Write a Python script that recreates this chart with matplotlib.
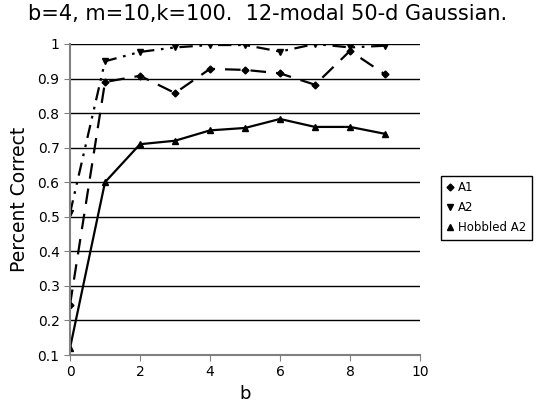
import numpy as np
import matplotlib.pyplot as plt

b = [0, 1, 2, 3, 4, 5, 6, 7, 8, 9]
a1 = [0.245, 0.89, 0.908, 0.858, 0.928, 0.925, 0.915, 0.882, 0.98, 0.912]
a2 = [0.51, 0.95, 0.977, 0.99, 0.997, 0.997, 0.978, 1.0, 0.99, 0.995]
hobbled = [0.12, 0.6, 0.71, 0.72, 0.75, 0.757, 0.783, 0.76, 0.76, 0.74]

plt.rcParams['font.family'] = ['DejaVu Sans']

fig = plt.figure(figsize=(5.36, 4.08), dpi=100)
ax = fig.add_axes([0.1306, 0.1299, 0.653, 0.7623])

ax.plot(b, a1, color='black', linewidth=1.6, dashes=(7, 4.5), marker='D', markersize=3.5, label='A1')
ax.plot(b, a2, color='black', linewidth=1.6, dashes=(6, 3, 1.2, 3, 1.2, 3), marker='v', markersize=5, label='A2')
ax.plot(b, hobbled, color='black', linewidth=1.6, marker='^', markersize=5, label='Hobbled A2')

ax.set_xlim(0, 10)
ax.set_ylim(0.1, 1.0)
ax.set_xticks([0, 2, 4, 6, 8, 10])
ax.set_yticks(np.arange(0.1, 1.01, 0.1))
ax.set_yticklabels(['0.1', '0.2', '0.3', '0.4', '0.5', '0.6', '0.7', '0.8', '0.9', '1'])
ax.yaxis.grid(True, color='black', linewidth=1)
ax.set_axisbelow(True)
for side in ['top', 'right']:
    ax.spines[side].set_visible(False)
for side in ['left', 'bottom']:
    ax.spines[side].set_color('gray')
    ax.spines[side].set_linewidth(1.5)
ax.tick_params(axis='both', labelsize=10, color='gray', length=4)

ax.set_xlabel('b', fontsize=13)
ax.set_ylabel('Percent Correct', fontsize=13.5, labelpad=6)
fig.suptitle('b=4, m=10,k=100.  12-modal 50-d Gaussian.', fontsize=15, x=0.5, y=0.99)

handles = [plt.Line2D([], [], color='black', linestyle='none', marker='D', markersize=3.5),
           plt.Line2D([], [], color='black', linestyle='none', marker='v', markersize=5),
           plt.Line2D([], [], color='black', linestyle='none', marker='^', markersize=5)]
fig.legend(handles, ['A1', 'A2', 'Hobbled A2'], loc='upper left', bbox_to_anchor=(0.823, 0.569),
           fontsize=8.5, frameon=True, fancybox=False, edgecolor='black', framealpha=1,
           handlelength=0.6, handletextpad=0.4, borderpad=0.45, labelspacing=0.6, borderaxespad=0)

fig.savefig('out.png', dpi=100)
